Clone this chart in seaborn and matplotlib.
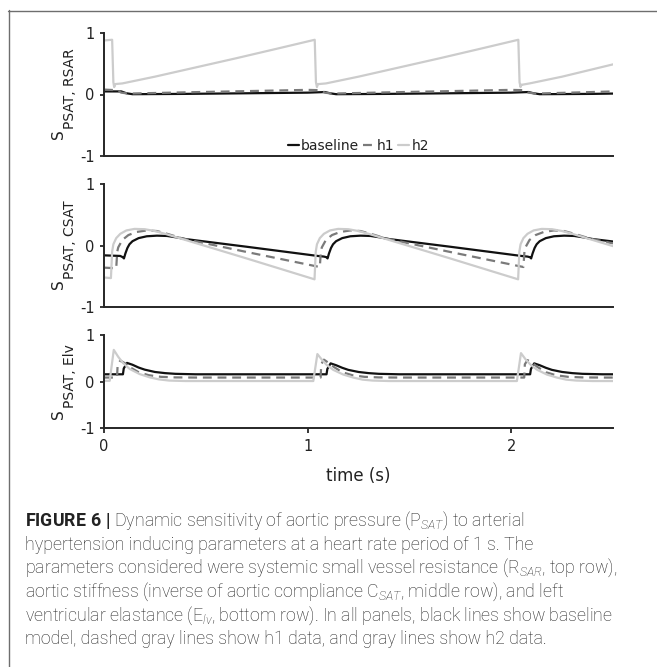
import numpy as np
import pandas as pd
import matplotlib
matplotlib.use("Agg")
import matplotlib.pyplot as plt
from matplotlib.lines import Line2D
import seaborn as sns

# ---------------- data ----------------
# Panel 1: S_PSAT,RSAR
t_r_base = [0.00, 0.085, 0.11, 0.14, 0.40, 0.70, 1.00, 1.085, 1.11, 1.14, 1.40, 1.70,
            2.00, 2.085, 2.11, 2.14, 2.40, 2.50]
y_r_base = [0.05, 0.05, 0.02, 0.005, 0.01, 0.02, 0.03, 0.04, 0.02, 0.005, 0.01, 0.02,
            0.03, 0.04, 0.02, 0.005, 0.01, 0.015]
t_r_h1 = [0.00, 0.06, 0.085, 0.12, 0.40, 0.70, 1.00, 1.06, 1.085, 1.12, 1.40, 1.70,
          2.00, 2.06, 2.085, 2.12, 2.40, 2.50]
y_r_h1 = [0.08, 0.07, 0.03, 0.015, 0.035, 0.055, 0.075, 0.07, 0.03, 0.015, 0.035, 0.055,
          0.075, 0.07, 0.03, 0.015, 0.04, 0.05]
t_r_h2 = [0.005, 0.040, 0.046, 0.050, 0.056, 0.09, 0.25, 0.45, 0.65, 0.85,
          1.035, 1.041, 1.046, 1.050, 1.056, 1.09, 1.25, 1.45, 1.65, 1.85,
          2.035, 2.041, 2.046, 2.050, 2.056, 2.09, 2.25, 2.45, 2.50]
y_r_h2 = [0.88, 0.89, 0.20, 0.12, 0.17, 0.18, 0.29, 0.44, 0.59, 0.745,
          0.89, 0.20, 0.12, 0.17, 0.17, 0.18, 0.29, 0.44, 0.59, 0.745,
          0.89, 0.20, 0.12, 0.16, 0.16, 0.18, 0.29, 0.45, 0.49]

# Panel 2: S_PSAT,CSAT
t_c_base = [0.00, 0.08, 0.092, 0.098, 0.105, 0.115, 0.125, 0.14, 0.17, 0.21, 0.26, 0.31, 0.36, 0.40, 0.70,
            1.05, 1.08, 1.092, 1.098, 1.105, 1.115, 1.125, 1.14, 1.17, 1.21, 1.26, 1.31, 1.36, 1.40, 1.70,
            2.05, 2.08, 2.092, 2.098, 2.105, 2.115, 2.125, 2.14, 2.17, 2.21, 2.26, 2.31, 2.36, 2.40, 2.50]
y_c_base = [-0.16, -0.17, -0.19, -0.21, -0.13, -0.04, 0.02, 0.07, 0.12, 0.15, 0.16, 0.155, 0.13, 0.105, -0.02,
            -0.17, -0.18, -0.19, -0.21, -0.13, -0.04, 0.02, 0.07, 0.12, 0.15, 0.16, 0.155, 0.13, 0.105, -0.02,
            -0.17, -0.18, -0.19, -0.21, -0.13, -0.04, 0.02, 0.07, 0.12, 0.15, 0.16, 0.155, 0.13, 0.105, 0.065]
t_c_h1 = [0.00, 0.060, 0.065, 0.070, 0.09, 0.12, 0.16, 0.21, 0.26, 0.31, 0.39, 0.70,
          1.060, 1.065, 1.070, 1.09, 1.12, 1.16, 1.21, 1.26, 1.31, 1.39, 1.70,
          2.060, 2.065, 2.070, 2.09, 2.12, 2.16, 2.21, 2.26, 2.31, 2.39, 2.50]
y_c_h1 = [-0.36, -0.37, -0.10, -0.03, 0.09, 0.17, 0.22, 0.245, 0.235, 0.19, 0.11, -0.105,
          -0.35, -0.10, -0.03, 0.09, 0.17, 0.22, 0.245, 0.235, 0.19, 0.11, -0.105,
          -0.35, -0.10, -0.03, 0.09, 0.17, 0.22, 0.245, 0.235, 0.19, 0.11, 0.035]
t_c_h2 = [0.00, 0.034, 0.040, 0.046, 0.06, 0.08, 0.11, 0.15, 0.20, 0.25, 0.30, 0.39, 0.70,
          1.034, 1.040, 1.046, 1.06, 1.08, 1.11, 1.15, 1.20, 1.25, 1.30, 1.39, 1.70,
          2.034, 2.040, 2.046, 2.06, 2.08, 2.11, 2.15, 2.20, 2.25, 2.30, 2.39, 2.50]
y_c_h2 = [-0.52, -0.53, -0.10, 0.02, 0.12, 0.19, 0.245, 0.27, 0.265, 0.235, 0.19, 0.10, -0.21,
          -0.55, -0.10, 0.02, 0.12, 0.19, 0.245, 0.27, 0.265, 0.235, 0.19, 0.10, -0.21,
          -0.55, -0.10, 0.02, 0.12, 0.19, 0.245, 0.27, 0.265, 0.235, 0.19, 0.10, -0.01]

# Panel 3: S_PSAT,Elv
t_e_base = [0.00, 0.093, 0.097, 0.113, 0.14, 0.17, 0.20, 0.25, 0.30, 0.35, 0.45,
            1.093, 1.097, 1.113, 1.14, 1.17, 1.20, 1.25, 1.30, 1.35, 1.45,
            2.093, 2.097, 2.113, 2.14, 2.17, 2.20, 2.25, 2.30, 2.35, 2.45, 2.50]
y_e_base = [0.155, 0.155, 0.28, 0.40, 0.36, 0.30, 0.255, 0.205, 0.18, 0.165, 0.155,
            0.155, 0.27, 0.39, 0.35, 0.295, 0.25, 0.205, 0.18, 0.165, 0.155,
            0.155, 0.27, 0.39, 0.35, 0.295, 0.25, 0.205, 0.18, 0.165, 0.155, 0.155]
t_e_h1 = [0.00, 0.064, 0.067, 0.08, 0.10, 0.13, 0.17, 0.22, 0.28, 0.35, 0.45,
          1.064, 1.067, 1.08, 1.10, 1.13, 1.17, 1.22, 1.28, 1.35, 1.45,
          2.064, 2.067, 2.08, 2.10, 2.13, 2.17, 2.22, 2.28, 2.35, 2.45, 2.50]
y_e_h1 = [0.085, 0.085, 0.36, 0.45, 0.40, 0.30, 0.20, 0.135, 0.10, 0.088, 0.085,
          0.085, 0.37, 0.47, 0.41, 0.31, 0.20, 0.135, 0.10, 0.088, 0.085,
          0.085, 0.37, 0.46, 0.41, 0.31, 0.20, 0.135, 0.10, 0.088, 0.085, 0.085]
t_e_h2 = [0.00, 0.028, 0.048, 0.07, 0.093, 0.126, 0.175, 0.224, 0.27, 0.32, 0.40,
          1.028, 1.048, 1.07, 1.093, 1.126, 1.175, 1.224, 1.27, 1.32, 1.40,
          2.028, 2.048, 2.07, 2.093, 2.126, 2.175, 2.224, 2.27, 2.32, 2.40, 2.50]
y_e_h2 = [0.015, 0.015, 0.68, 0.53, 0.40, 0.27, 0.16, 0.09, 0.045, 0.02, 0.01,
          0.01, 0.59, 0.47, 0.36, 0.25, 0.15, 0.085, 0.04, 0.02, 0.01,
          0.01, 0.61, 0.48, 0.37, 0.255, 0.15, 0.085, 0.04, 0.02, 0.01, 0.01]

series_labels = ["baseline", "h1", "h2"]
panel_sub = ["PSAT, RSAR", "PSAT, CSAT", "PSAT, Elv"]
x_ticks = [0, 1, 2]
y_ticks = [-1, 0, 1]
x_label = "time (s)"

caption_lines = [
    r"$\mathbf{FIGURE\ 6\ |}$ Dynamic sensitivity of aortic pressure (P$_{SAT}$) to arterial",
    "hypertension inducing parameters at a heart rate period of 1 s. The",
    r"parameters considered were systemic small vessel resistance (R$_{SAR}$, top row),",
    r"aortic stiffness (inverse of aortic compliance C$_{SAT}$, middle row), and left",
    r"ventricular elastance (E$_{lv}$, bottom row). In all panels, black lines show baseline",
    "model, dashed gray lines show h1 data, and gray lines show h2 data.",
]

panels = [
    [(t_r_base, y_r_base), (t_r_h1, y_r_h1), (t_r_h2, y_r_h2)],
    [(t_c_base, y_c_base), (t_c_h1, y_c_h1), (t_c_h2, y_c_h2)],
    [(t_e_base, y_e_base), (t_e_h1, y_e_h1), (t_e_h2, y_e_h2)],
]

# ---------------- style ----------------
sns.set_theme(style="ticks")
plt.rcParams["font.family"] = ["DejaVu Sans"]
plt.rcParams["axes.unicode_minus"] = False
plt.rcParams["mathtext.fontset"] = "custom"
plt.rcParams["mathtext.rm"] = "Roboto:light"
plt.rcParams["mathtext.it"] = "Roboto:italic:light"
plt.rcParams["mathtext.bf"] = "Roboto:bold"

W, H = 657, 667
fig = plt.figure(figsize=(W / 100, H / 100), dpi=100)
fig.patch.set_facecolor("white")


def rect(top, bottom, left=104, right=613):
    return [left / W, 1 - bottom / H, (right - left) / W, (bottom - top) / H]


axes = [fig.add_axes(rect(33, 156)), fig.add_axes(rect(184, 307)), fig.add_axes(rect(335, 428))]

colors = ["#111111", "#7a7a7a", "#cccccc"]
spine_c = "#262626"
S_dy = [-39.5, -39.0, -32.5]  # px offset of the big "S"

for i, ax in enumerate(axes):
    for j, (t, y) in enumerate(panels[i]):
        df = pd.DataFrame({"t": t, "y": y})
        sns.lineplot(data=df, x="t", y="y", ax=ax, color=colors[j], lw=1.6,
                     estimator=None, sort=False, label=series_labels[j] if i == 0 else None,
                     legend=False)
        if j == 1:
            ax.lines[-1].set_dashes([4, 2.6])
    ax.set_xlim(0, 2.5)
    ax.set_ylim(-1, 1)
    ax.set_yticks(y_ticks)
    ax.set_yticklabels([str(v) for v in y_ticks])
    ax.set_xlabel("")
    ax.set_ylabel("")
    sns.despine(ax=ax)
    for sp in ["left", "bottom"]:
        ax.spines[sp].set_color(spine_c)
        ax.spines[sp].set_linewidth(1.4)
    ax.tick_params(axis="y", length=3.2, width=1.3, pad=3.5, labelsize=10.5, colors=spine_c)
    ax.tick_params(axis="y", labelcolor="#222222")
    if i < 2:
        ax.set_xticks([])
    else:
        ax.set_xticks(x_ticks)
        ax.set_xticklabels([str(v) for v in x_ticks])
        ax.tick_params(axis="x", length=3.6, width=1.3, pad=4.5, labelsize=10.5, colors=spine_c)
        ax.tick_params(axis="x", labelcolor="#222222")
        ax.set_xlabel(x_label, fontsize=12, color="#222222", labelpad=9)
    # y labels: big S and subscript
    ax.annotate(panel_sub[i], xy=(0, 0.5), xycoords="axes fraction",
                xytext=(-33.7 * 0.72, 5.5 * 0.72), textcoords="offset points",
                rotation=90, ha="center", va="center", fontsize=10, color="#222222")
    ax.annotate("S", xy=(0, 0.5), xycoords="axes fraction",
                xytext=(-45.3 * 0.72, S_dy[i] * 0.72), textcoords="offset points",
                rotation=90, ha="center", va="center", fontsize=11, color="#222222")

leg = axes[0].legend(loc="center", bbox_to_anchor=(0.5, 0.085), ncol=3, frameon=False,
                     handlelength=0.8, handletextpad=0.15, columnspacing=0.3,
                     fontsize=10, borderaxespad=0)
for txt in leg.get_texts():
    txt.set_color("#222222")

# border
fig.add_artist(Line2D([8.5 / W, 8.5 / W], [1 - 10 / H, 0], transform=fig.transFigure,
                      color="#6e6e6e", lw=1.0))
fig.add_artist(Line2D([8 / W, 1], [1 - 10.5 / H, 1 - 10.5 / H], transform=fig.transFigure,
                      color="#6e6e6e", lw=1.0))

# caption
baselines = [526, 550, 573, 597, 621, 644]
for line, yb in zip(caption_lines, baselines):
    fig.text(25 / W, 1 - yb / H, line, ha="left", va="baseline", fontsize=12.8,
             family=["Roboto", "DejaVu Sans"], fontweight="light", color="#222222")

fig.savefig("out.png", dpi=100, facecolor="white")
